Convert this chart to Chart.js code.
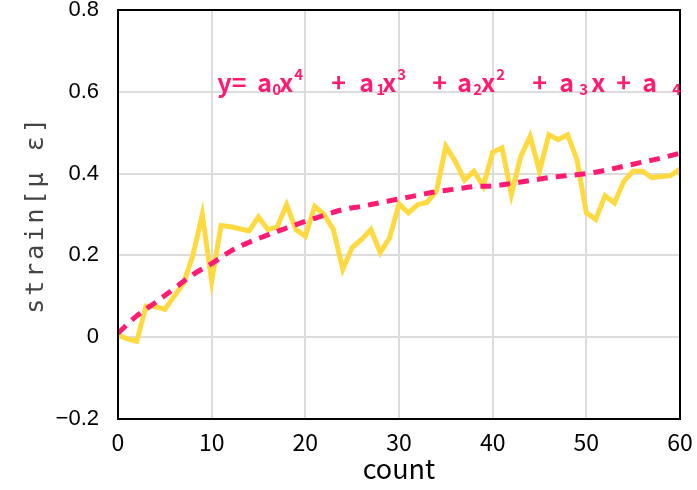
<!DOCTYPE html>
<html>
<head>
<meta charset="utf-8">
<script src="https://cdn.jsdelivr.net/npm/chart.js@4.4.0/dist/chart.umd.min.js"></script>
<style>
	html, body { margin: 0; padding: 0; background: #fff; }
	#wrap { width: 697px; height: 490px; }
</style>
</head>
<body>
<div id="wrap"><canvas id="chart-strain"></canvas></div>
<script>
// Measured strain per count
const counts = [
	0, 1, 2, 3, 4, 5, 6, 7, 8, 9, 10, 11, 12, 13, 14, 15, 16, 17, 18, 19, 20,
	21, 22, 23, 24, 25, 26, 27, 28, 29, 30, 31, 32, 33, 34, 35, 36, 37, 38, 39, 40,
	41, 42, 43, 44, 45, 46, 47, 48, 49, 50, 51, 52, 53, 54, 55, 56, 57, 58, 59, 60,
];
const strain = [
	0.005, -0.004, -0.010, 0.076, 0.075, 0.068, 0.100, 0.132, 0.200, 0.300, 0.137,
	0.273, 0.270, 0.265, 0.260, 0.294, 0.263, 0.270, 0.324, 0.263, 0.247,
	0.320, 0.300, 0.263, 0.166, 0.219, 0.239, 0.263, 0.207, 0.243, 0.326,
	0.304, 0.324, 0.330, 0.357, 0.467, 0.430, 0.384, 0.406, 0.369, 0.452,
	0.463, 0.349, 0.442, 0.491, 0.406, 0.495, 0.483, 0.495, 0.434, 0.304,
	0.288, 0.346, 0.328, 0.381, 0.406, 0.406, 0.390, 0.393, 0.395, 0.411,
];

// 4th order fit, sampled every 2 counts
const fitCounts = [
	0, 2, 4, 6, 8, 10, 12, 14, 16, 18, 20, 22, 24, 26, 28, 30,
	32, 34, 36, 38, 40, 42, 44, 46, 48, 50, 52, 54, 56, 58, 60,
];
const fitStrain = [
	0.010, 0.052, 0.085, 0.119, 0.153, 0.180, 0.210, 0.232, 0.250, 0.267, 0.283,
	0.298, 0.312, 0.320, 0.329, 0.338, 0.347, 0.356, 0.362, 0.368, 0.370,
	0.376, 0.383, 0.390, 0.395, 0.400, 0.408, 0.418, 0.428, 0.438, 0.450,
];

const yTicks = [-0.2, 0, 0.2, 0.4, 0.6, 0.8];
const xTicks = [0, 10, 20, 30, 40, 50, 60];
const yTitle = 'strain[μ ε]';
const xTitle = 'count';

// equation pieces: text, x offset from the anchor, kind
const equation = [
	['y=', 0, 'n'],
	['a', 40, 'n'], ['0', 55, 'sub'], ['x', 62, 'n'], ['4', 77, 'sup'],
	['+', 114, 'n'],
	['a', 142, 'n'], ['1', 159, 'sub'], ['x', 165, 'n'], ['3', 180, 'sup'],
	['+', 215, 'n'],
	['a', 240, 'n'], ['2', 256, 'sub'], ['x', 264, 'n'], ['2', 279, 'sup'],
	['+', 315, 'n'],
	['a', 342, 'n'], ['3', 362, 'sub'], ['x', 374, 'n'],
	['+', 399, 'n'],
	['a', 425, 'n'], ['4', 455, 'sub'],
];

const pink = '#ff1a72';
const yellow = '#ffd940';

const fmtTick = (v) => {
	const r = Math.round(v * 10) / 10;
	if (r === 0) return '0';
	return (r < 0 ? '\u2212' : '') + Math.abs(r).toFixed(1);
};

// black frame round the plot area
const framePlugin = {
	id: 'frame',
	afterDatasetsDraw(chart) {
		const { ctx, chartArea: a } = chart;
		ctx.save();
		ctx.strokeStyle = '#000';
		ctx.lineWidth = 2;
		ctx.strokeRect(a.left, a.top, a.right - a.left, a.bottom - a.top);
		ctx.restore();
	},
};

// rotated y axis title with wide letter spacing
const yTitlePlugin = {
	id: 'yTitle',
	afterDraw(chart) {
		const { ctx, chartArea: a } = chart;
		ctx.save();
		ctx.translate(36, (a.top + a.bottom) / 2);
		ctx.rotate(-Math.PI / 2);
		ctx.font = '25px "DejaVu Sans Mono"';
		ctx.letterSpacing = '3px';
		ctx.fillStyle = '#444';
		ctx.textAlign = 'center';
		ctx.textBaseline = 'middle';
		ctx.fillText(yTitle, 0, 0);
		ctx.restore();
	},
};

// fit equation, sitting on the 0.6 grid line
const equationPlugin = {
	id: 'equation',
	afterDatasetsDraw(chart) {
		const { ctx } = chart;
		const x0 = chart.scales.x.getPixelForValue(10.6);
		const base = chart.scales.y.getPixelForValue(0.6);
		ctx.save();
		ctx.fillStyle = pink;
		ctx.textBaseline = 'alphabetic';
		equation.forEach(([t, dx, kind]) => {
			let y = base;
			if (kind === 'n') {
				ctx.font = 'bold 25px "Noto Sans CJK JP"';
			} else {
				ctx.font = 'bold 15px "Noto Sans CJK JP"';
				y = kind === 'sup' ? base - 12 : base + 3;
			}
			ctx.fillText(t, x0 + dx, y);
		});
		ctx.restore();
	},
};

!(function () {
	const ctx = document.getElementById('chart-strain');

	new Chart(ctx, {
		type: 'line',
		data: {
			datasets: [
				{
					label: 'fit',
					data: fitCounts.map((c, i) => ({ x: c, y: fitStrain[i] })),
					borderColor: pink,
					borderWidth: 5,
					borderDash: [11, 8],
					borderCapStyle: 'butt',
					pointRadius: 0,
					tension: 0.4,
					fill: false,
				},
				{
					label: 'strain',
					data: counts.map((c, i) => ({ x: c, y: strain[i] })),
					borderColor: yellow,
					borderWidth: 5,
					pointRadius: 0,
					tension: 0,
					fill: false,
				},
			],
		},
		options: {
			responsive: true,
			maintainAspectRatio: false,
			animation: false,
			layout: {
				padding: { top: 10, right: 17, left: 0, bottom: 0 },
			},
			scales: {
				x: {
					type: 'linear',
					min: 0,
					max: 60,
					afterFit: (s) => {
						s.height = 71;
						s.paddingLeft = 0;
						s.paddingRight = 0;
					},
					afterBuildTicks: (s) => { s.ticks = xTicks.map((v) => ({ value: v })); },
					grid: { color: '#dcdcdc', lineWidth: 2, drawTicks: false },
					border: { display: false },
					ticks: {
						padding: 9,
						color: '#000',
						font: { family: '"Noto Sans CJK JP"', size: 23 },
					},
					title: {
						display: true,
						text: xTitle,
						color: '#000',
						font: { family: '"Noto Sans CJK JP"', size: 27, lineHeight: 1 },
						padding: { top: 0, bottom: 8 },
					},
				},
				y: {
					min: -0.2,
					max: 0.8,
					afterFit: (s) => {
						s.width = 118;
						s.paddingTop = 0;
						s.paddingBottom = 0;
					},
					afterBuildTicks: (s) => { s.ticks = yTicks.map((v) => ({ value: v })); },
					grid: { color: '#dcdcdc', lineWidth: 2, drawTicks: false },
					border: { display: false },
					ticks: {
						padding: 19,
						color: '#000',
						font: { family: '"Liberation Sans"', size: 22 },
						callback: (v) => fmtTick(v),
					},
				},
			},
			plugins: {
				legend: { display: false },
				tooltip: { enabled: false },
			},
		},
		plugins: [framePlugin, yTitlePlugin, equationPlugin],
	});
})();
</script>
</body>
</html>
